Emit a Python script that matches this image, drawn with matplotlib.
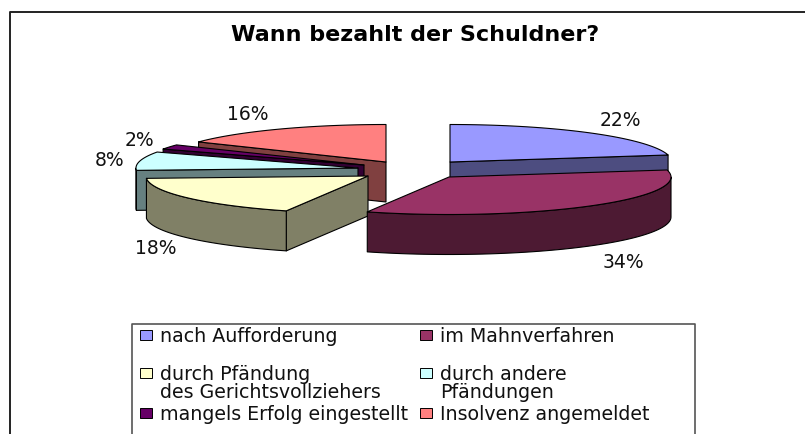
import numpy as np
import matplotlib
matplotlib.use("Agg")
import matplotlib.pyplot as plt
from matplotlib.patches import Polygon, Rectangle

TITLE = "Wann bezahlt der Schuldner?"
categories = ["nach Aufforderung", "im Mahnverfahren",
              "durch Pfändung\ndes Gerichtsvollziehers", "durch andere\nPfändungen",
              "mangels Erfolg eingestellt", "Insolvenz angemeldet"]
shares = [22, 34, 18, 8, 2, 16]

colors = ["#9999FF", "#993366", "#FFFFCC", "#CCFFFF", "#660066", "#FF8080"]
sides = ["#4D4D80", "#4D1A33", "#808066", "#668080", "#330033", "#804040"]

# layout, all in image pixels
W, H = 805, 434
RX, RY, DEPTH = 222, 37.5, 40
apex = [(450, 162), (449, 177), (368, 176), (358, 168), (364, 165), (386, 162)]
label_pos = [(620, 120), (623, 262), (156, 249), (110, 160), (139, 141), (248, 115)]
draw_order = [5, 4, 3, 2, 0, 1]
legend_slots = [(140, 335), (420, 335), (140, 373), (420, 373), (140, 413), (420, 413)]
FONT = "DejaVu Sans"


def rim(cx, cy, a0, a1):
    """Points on the ellipse, angles in degrees clockwise from the top."""
    t = np.radians(np.linspace(a0, a1, 60))
    return np.column_stack([cx + RX * np.sin(t), cy - RY * np.cos(t)])


def face(ax, pts, color, z):
    ax.add_patch(Polygon(pts, closed=True, fc=color, ec="black", lw=0.8,
                         joinstyle="round", zorder=z))


def draw_wedge(ax, i, a0, a1, z):
    cx, cy = apex[i]
    down = np.array([0, DEPTH])
    # cut faces: only the ones turned towards the viewer
    for a, visible in ((a0, 180 < a0 < 360), (a1, 0 < a1 < 180)):
        if visible:
            p = rim(cx, cy, a, a)[0]
            q = np.array([cx, cy])
            face(ax, [q, p, p + down, q + down], sides[i], z)
    # outer rim, front half of the ellipse only
    lo, hi = max(a0, 90), min(a1, 270)
    if lo < hi:
        arc = rim(cx, cy, lo, hi)
        face(ax, np.vstack([arc, arc[::-1] + down]), sides[i], z)
    face(ax, np.vstack([[cx, cy], rim(cx, cy, a0, a1)]), colors[i], z)


fig = plt.figure(figsize=(W / 100, H / 100), dpi=100)
ax = fig.add_axes([0, 0, 1, 1])
ax.set_xlim(0, W)
ax.set_ylim(H, 0)
ax.axis("off")

# chart frame runs off the right and bottom of the picture
ax.plot([10, 10, W], [H, 12, 12], color="#222222", lw=1.4, zorder=1)
ax.text(415, 35, TITLE, ha="center", va="center", fontsize=16,
        fontweight="bold", family=FONT, color="black")

stops = np.cumsum([0] + shares) * 3.6
for z, i in enumerate(draw_order):
    draw_wedge(ax, i, stops[i], stops[i + 1], 3 + z)

for i, (x, y) in enumerate(label_pos):
    ax.text(x, y, f"{shares[i]}%", ha="center", va="center", fontsize=13.5,
            family=FONT, color="#111111", zorder=20)

# legend box
ax.plot([132, 132, 695, 695], [H, 324, 324, H], color="#555555", lw=1.2, zorder=1)
for i, (x, y) in enumerate(legend_slots):
    ax.add_patch(Rectangle((x, y - 5), 12, 10, fc=colors[i], ec="black", lw=0.7, zorder=5))
    ax.text(x + 20, y - 8, categories[i], ha="left", va="top", fontsize=13.7,
            linespacing=0.93, family=FONT, color="#111111", zorder=5)

fig.savefig("out.png", dpi=100)
